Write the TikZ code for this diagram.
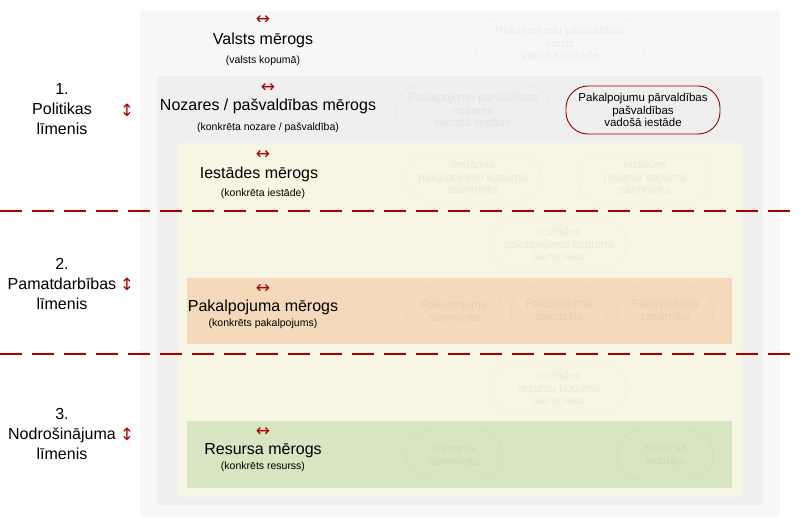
\documentclass[tikz,border=0pt]{standalone}
\usepackage{fontspec}
\setmainfont{Liberation Sans}
\newfontfamily\arrfont{DejaVu Sans}
\definecolor{bgA}{HTML}{F7F7F7}
\definecolor{bgB}{HTML}{EFEFEF}
\definecolor{bgY}{HTML}{F7F6E4}
\definecolor{bgO}{HTML}{F4D9BB}
\definecolor{bgG}{HTML}{D6E5C2}
\begin{document}
\begin{tikzpicture}[x=1pt,y=-1pt,
  oval/.style={draw=red!60!black, rounded corners=22pt, align=center, font=\fontsize{11.5}{12.5}\selectfont, inner sep=0pt, minimum height=48pt},
  faint/.style={oval, draw opacity=0.05, text opacity=0.05},
  title/.style={font=\fontsize{16}{18}\selectfont},
  sub/.style={font=\fontsize{10.5}{12}\selectfont},
  harr/.style={font=\arrfont\fontsize{17}{17}\selectfont, text=red!70!black},
  varr/.style={font=\arrfont\fontsize{17}{17}\selectfont, text=red!70!black},
  lvl/.style={font=\fontsize{16}{18}\selectfont},
  dline/.style={draw=red!65!black, line width=1.2pt, dash pattern=on 22pt off 10pt}]
\useasboundingbox (0,0) rectangle (800,527);
\fill[white] (0,0) rectangle (800,527);
\fill[bgA] (140,10) rectangle (780,517);
\fill[bgB] (158,76) rectangle (762,505);
\fill[bgY] (178,143) rectangle (742,497);
\fill[bgO] (187,278) rectangle (732,344);
\fill[bgG] (187,421) rectangle (732,488);
\draw[dline] (0,211) -- (800,211);
\draw[dline] (0,354) -- (800,354);

\node[faint, minimum width=172pt] (v1) at (560,43) {Pakalpojumu pārvaldības\\valsts\\vadošā iestāde};
\node[faint, minimum width=154pt] (n1) at (473,110) {Pakalpojumu pārvaldības\\nozares\\vadošā iestāde};
\node[oval, line width=0.9pt, minimum width=154pt] (n2) at (643,110) {Pakalpojumu pārvaldības\\pašvaldības\\vadošā iestāde};
\node[faint, minimum width=134pt] (i1) at (473,177) {Iestādes\\pakalpojumu kopuma\\saimnieks};
\node[faint, minimum width=134pt] (i2) at (645,177) {Iestādes\\resursu kopuma\\saimnieks};
\node[faint, minimum width=134pt] (i3) at (559,244) {Iestādes\\pakalpojumu kopuma\\saimnieks};
\node[faint, minimum width=96pt] (p1) at (454,311) {Pakalpojuma\\saimnieks};
\node[faint, minimum width=96pt] (p2) at (559,311) {Pakalpojuma\\sniedzējs};
\node[faint, minimum width=96pt] (p3) at (665,311) {Pakalpojuma\\saņēmējs};
\node[faint, minimum width=134pt] (i4) at (559,388) {Iestādes\\resursu kopuma\\saimnieks};
\node[faint, minimum width=96pt] (r1) at (454,455) {Resursa\\saimnieks};
\node[faint, minimum width=96pt] (r2) at (665,455) {Resursa\\lietotājs};

\node[harr] (a1) at (263,20) {↔};
\node[title] (t1) at (263,40) {Valsts mērogs};
\node[sub] (s1) at (263,61) {(valsts kopumā)};
\node[harr] (a2) at (268,88) {↔};
\node[title] (t2) at (268,106) {Nozares / pašvaldības mērogs};
\node[sub] (s2) at (268,128) {(konkrēta nozare / pašvaldība)};
\node[harr] (a3) at (263,155) {↔};
\node[title] (t3) at (259,174) {Iestādes mērogs};
\node[sub] (s3) at (263,194) {(konkrēta iestāde)};
\node[harr] (a4) at (263,289) {↔};
\node[title] (t4) at (263,307) {Pakalpojuma mērogs};
\node[sub] (s4) at (263,324) {(konkrēts pakalpojums)};
\node[harr] (a5) at (263,432) {↔};
\node[title] (t5) at (263,451) {Resursa mērogs};
\node[sub] (s5) at (263,467) {(konkrēts resurss)};

\node[lvl, align=center] (l1) at (62,109) {1.\\[2pt]Politikas\\[2pt]līmenis};
\node[varr] (b1) at (127,110) {↕};
\node[lvl, align=center] (l2) at (62,284) {2.\\[2pt]Pamatdarbības\\[2pt]līmenis};
\node[varr] (b2) at (127,284) {↕};
\node[lvl, align=center] (l3) at (62,434) {3.\\[2pt]Nodrošinājuma\\[2pt]līmenis};
\node[varr] (b3) at (127,434) {↕};
\end{tikzpicture}
\end{document}
